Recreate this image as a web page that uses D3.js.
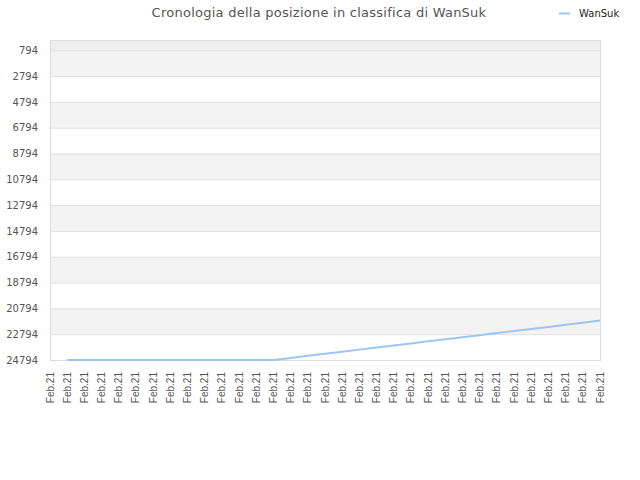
<!DOCTYPE html>
<html>
<head>
<meta charset="utf-8">
<script src="https://cdn.jsdelivr.net/npm/d3@7"></script>
<style>
  body { margin: 0; background: #fff; }
  svg { display: block; }
  .chartTitle { font-family: "DejaVu Sans", sans-serif; font-size: 13px; letter-spacing: 0.25px; fill: #555; }
  .yLabel { font-family: "DejaVu Sans", sans-serif; font-size: 10px; fill: #555; }
  .xLabel { font-family: "Liberation Sans", Arial, sans-serif; font-size: 10px; fill: #555; }
  .legendText { font-family: "DejaVu Sans", sans-serif; font-size: 10px; fill: #222; }
</style>
</head>
<body>
<div id="chart" style="width:640px;height:480px;"><svg width="640" height="480"></svg></div>
<script>

// x categories (all labelled "Feb.21")
const dates = ["Feb.21", "Feb.21", "Feb.21", "Feb.21", "Feb.21", "Feb.21", "Feb.21", "Feb.21",
    "Feb.21", "Feb.21", "Feb.21", "Feb.21", "Feb.21", "Feb.21", "Feb.21", "Feb.21",
    "Feb.21", "Feb.21", "Feb.21", "Feb.21", "Feb.21", "Feb.21", "Feb.21", "Feb.21",
    "Feb.21", "Feb.21", "Feb.21", "Feb.21", "Feb.21", "Feb.21", "Feb.21", "Feb.21", "Feb.21"];

// ranking position of WanSuk (null = no data)
const positions = [null, 24794, 24794, 24794, 24794, 24794, 24794, 24794, 24794, 24794,
    24794, 24794, 24794, 24794, 24630, 24470, 24310, 24150, 23990, 23830, 23670,
    23510, 23350, 23190, 23030, 22870, 22710, 22550, 22390, 22230, 22070, 21910, 21740];

// y tick labels
const yTicks = [794, 2794, 4794, 6794, 8794, 10794, 12794, 14794, 16794, 18794, 20794, 22794, 24794];

const seriesName = "WanSuk";
const titleText = "Cronologia della posizione in classifica di WanSuk";

/**********************
***** BASIC SETUP *****
**********************/

const width = 640;
const height = 480;
const margin = {top: 40, left: 50, right: 40, bottom: 120};

const svg = d3.select("#chart").select("svg");

/***********************
***** X & Y SCALES *****
***********************/

const xScale = d3.scalePoint()
    .domain(d3.range(dates.length))
    .range([margin.left, width - margin.right]);

const yScale = d3.scaleLinear()
    .domain([1, 24794])
    .range([margin.top, height - margin.bottom]);

/****************************
***** BANDS & GRIDLINES *****
****************************/

const plotLeft = margin.left;
const plotRight = width - margin.right;

// strip above first tick
svg.append("rect")
    .attr("x", plotLeft)
    .attr("y", margin.top)
    .attr("width", plotRight - plotLeft)
    .attr("height", yScale(yTicks[0]) - margin.top)
    .attr("fill", "#efefef");

// alternating bands between ticks
const bands = d3.pairs(yTicks).filter((d, i) => i % 2 === 0);
svg.selectAll(".band")
    .data(bands)
    .enter()
    .append("rect")
    .attr("class", "band")
    .attr("x", plotLeft)
    .attr("y", d => yScale(d[0]))
    .attr("width", plotRight - plotLeft)
    .attr("height", d => yScale(d[1]) - yScale(d[0]))
    .attr("fill", "#f3f3f3");

// y axis with gridlines
const yaxis = svg.append("g")
    .attr("transform", `translate(${plotLeft}, 0)`)
    .call(d3.axisLeft(yScale)
        .tickValues(yTicks)
        .tickSize(-(plotRight - plotLeft))
        .tickPadding(12)
        .tickFormat(d3.format("d")));

yaxis.select(".domain").remove();
yaxis.selectAll(".tick line").attr("stroke", "#e0e0e0");
yaxis.selectAll(".tick text").attr("class", "yLabel").attr("fill", null);

// plot frame
svg.append("rect")
    .attr("x", plotLeft + 0.5)
    .attr("y", margin.top + 0.5)
    .attr("width", plotRight - plotLeft)
    .attr("height", height - margin.bottom - margin.top)
    .attr("fill", "none")
    .attr("stroke", "#dddddd");

/*******************
***** X LABELS *****
*******************/

svg.append("g")
    .selectAll(".xLabel")
    .data(dates)
    .enter()
    .append("text")
    .attr("class", "xLabel")
    .text(d => d)
    .attr("text-anchor", "end")
    .attr("transform", (d, i) => `translate(${xScale(i) + 3.5}, ${height - margin.bottom + 12}) rotate(-90)`);

/***************
***** LINE *****
***************/

const line = d3.line()
    .defined(d => d !== null)
    .x((d, i) => xScale(i))
    .y(d => yScale(d));

svg.append("path")
    .datum(positions)
    .attr("d", line)
    .attr("fill", "none")
    .attr("stroke", "#9dc6f2")
    .attr("stroke-width", 2);

/*************************
***** TITLE, LEGEND *****
*************************/

svg.append("text")
    .attr("class", "chartTitle")
    .attr("x", 319)
    .attr("y", 17)
    .attr("text-anchor", "middle")
    .text(titleText);

const legend = svg.append("g");
legend.append("line")
    .attr("x1", 559)
    .attr("x2", 570)
    .attr("y1", 13.5)
    .attr("y2", 13.5)
    .attr("stroke", "#9dc6f2")
    .attr("stroke-width", 2);
legend.append("text")
    .attr("class", "legendText")
    .attr("x", 579)
    .attr("y", 17)
    .text(seriesName);
</script>
</body>
</html>
